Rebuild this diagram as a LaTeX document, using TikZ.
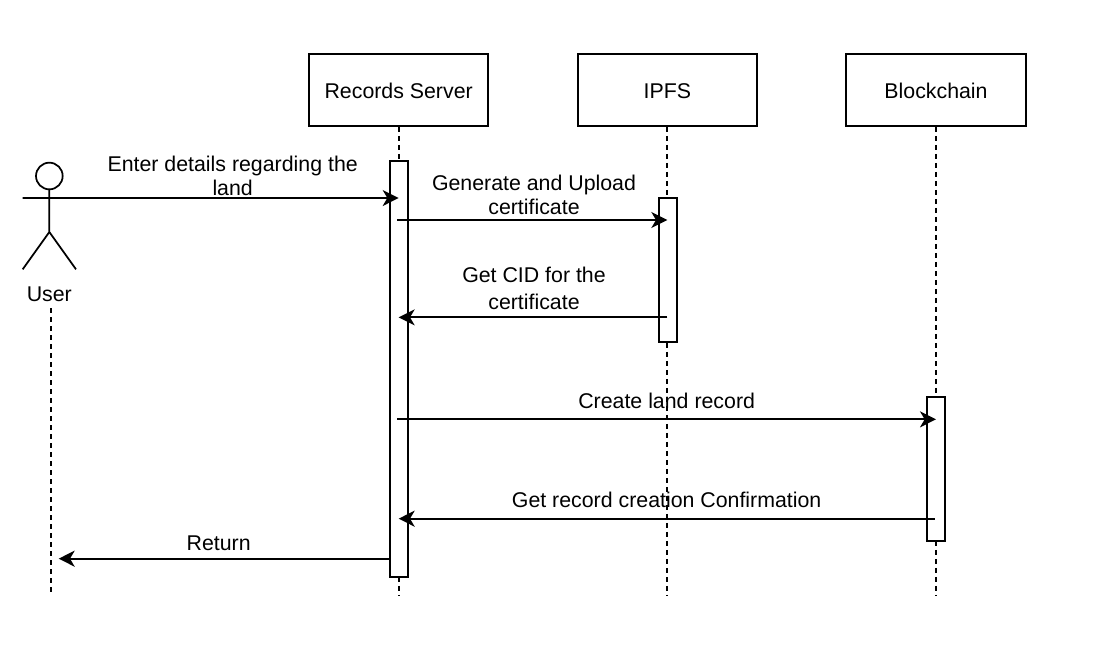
\documentclass[tikz,border=0pt]{standalone}
\usepackage{fontspec}
\setmainfont{Liberation Sans}
\usetikzlibrary{arrows.meta,positioning}
\tikzset{
  lifebox/.style={draw,line width=1.3pt,minimum width=134.5pt,minimum height=54pt,font=\fontsize{16}{18}\selectfont,inner sep=0pt,text height=15pt,text depth=2.5pt},
  actbox/.style={draw,fill=white,line width=1.3pt,minimum width=13.5pt,inner sep=0pt},
  lifeline/.style={dash pattern=on 3.75pt off 3pt,line width=1.3pt},
  msg/.style={-{Stealth[length=12pt,width=12pt,inset=3.5pt]},line width=1.3pt},
  lbl/.style={font=\fontsize{16}{18}\selectfont,align=center,inner sep=0pt},
  stick/.style={line width=1.3pt}
}
\begin{document}
\begin{tikzpicture}[x=1pt,y=-1pt]
  \useasboundingbox (0,0) rectangle (835.5,493.5);
  % lifeline heads
  \node[lifebox] (server) at (299,67.5) {Records Server};
  \node[lifebox] (ipfs) at (500.5,67.5) {IPFS};
  \node[lifebox] (chain) at (702,67.5) {Blockchain};
  % user
  \node[draw,circle,line width=1.3pt,minimum size=20pt,inner sep=0pt] (head) at (37,132) {};
  \coordinate (hipl) at (17,148.5);
  \coordinate (hipr) at (57,148.5);
  \coordinate (crotch) at (37,174);
  \coordinate (footl) at (17,202);
  \coordinate (footr) at (57,202);
  \draw[stick] (head.south) -- (crotch) (hipl) -- (hipr) (crotch) -- (footl) (crotch) -- (footr);
  \node[lbl] (user) at (37,220.5) {User};
  % lifelines
  \coordinate (serverend) at (299,447);
  \coordinate (ipfsend) at (500.5,447);
  \coordinate (chainend) at (702,447);
  \coordinate (userstart) at (38.5,231);
  \coordinate (userend) at (38.5,447);
  \draw[lifeline] (server) -- (serverend);
  \draw[lifeline] (ipfs) -- (ipfsend);
  \draw[lifeline] (chain) -- (chainend);
  \draw[lifeline] (userstart) -- (userend);
  % activations
  \node[actbox,minimum height=312pt] (actserver) at (299,277) {};
  \node[actbox,minimum height=108pt] (actipfs) at (501,202.5) {};
  \node[actbox,minimum height=108pt] (actchain) at (702,351.5) {};
  % messages
  \draw[msg] (hipr) -- (hipr -| server);
  \node[lbl] (l1) at (174.5,132) {Enter details regarding the\\land};
  \coordinate (m2) at (298,165);
  \draw[msg] (m2) -- (m2 -| ipfs);
  \node[lbl] (l2) at (400.5,146.5) {Generate and Upload\\certificate};
  \coordinate (m3) at (500.5,238);
  \draw[msg] (m3) -- (m3 -| server);
  \node[lbl] (l3) at (400.5,216.5) {Get CID for the\\[2pt]certificate};
  \coordinate (m4) at (298,314.5);
  \draw[msg] (m4) -- (m4 -| chain);
  \node[lbl] (l4) at (500,300.5) {Create land record};
  \coordinate (m5) at (701,389);
  \draw[msg] (m5) -- (m5 -| server);
  \node[lbl] (l5) at (500,375) {Get record creation Confirmation};
  \coordinate (m6) at (292,419);
  \coordinate (m6end) at (44,419);
  \draw[msg] (m6) -- (m6end);
  \node[lbl] (l6) at (164,407.5) {Return};
\end{tikzpicture}
\end{document}
